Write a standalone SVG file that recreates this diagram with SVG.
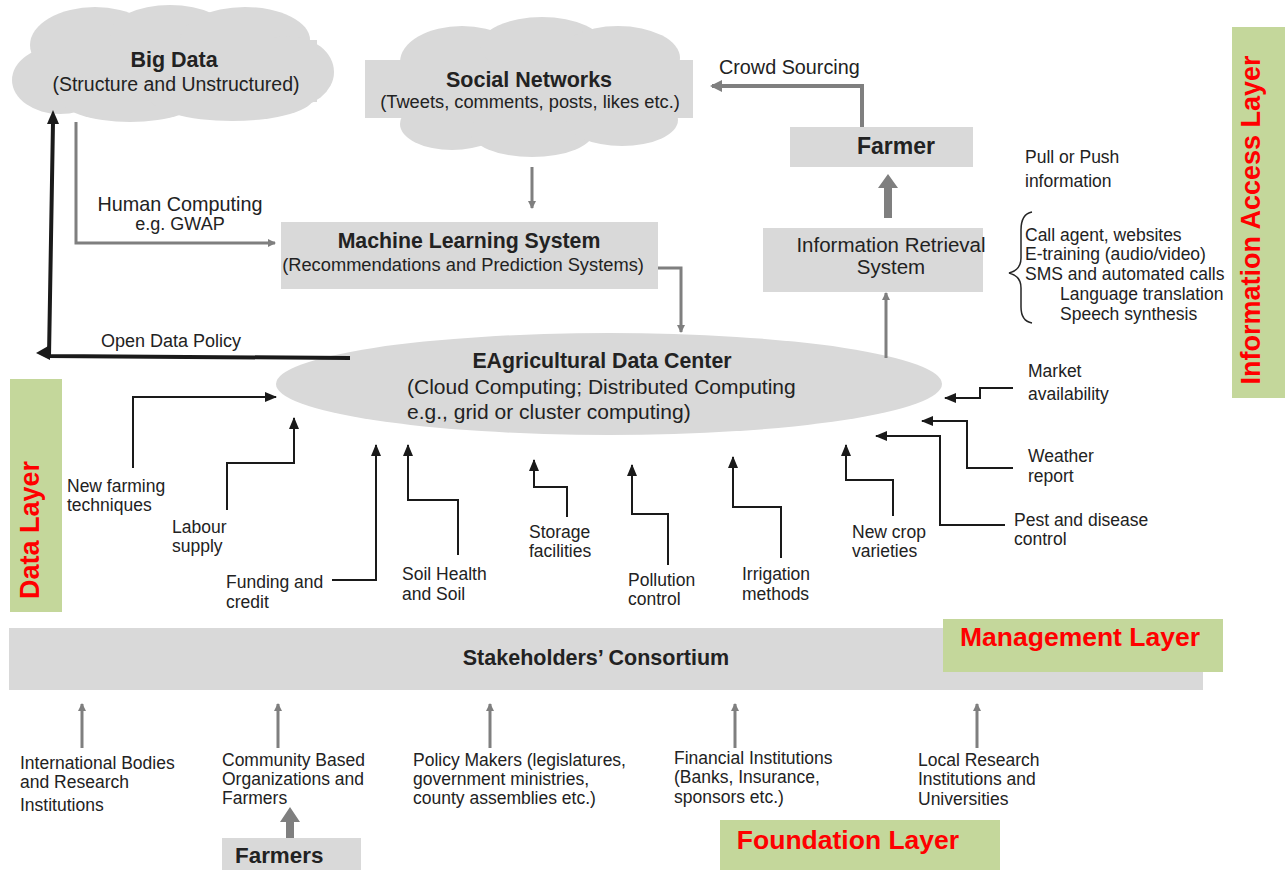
<svg xmlns="http://www.w3.org/2000/svg" width="1285" height="870" viewBox="0 0 1285 870">
<defs>
<style>
text{font-family:"Liberation Sans",Arial,sans-serif;fill:#222222}
.s{font-size:17.5px}
.b{font-weight:bold}
.c{text-anchor:middle}
.red{fill:#ff0000;font-weight:bold}
.box{fill:#d9d9d9}
.green{fill:#c4d79b}
.blk{fill:none;stroke:#1a1a1a;stroke-width:2}
.gry{fill:none;stroke:#7f7f7f;stroke-width:3}
</style>
<marker id="ab" markerUnits="userSpaceOnUse" markerWidth="12" markerHeight="10" refX="11" refY="5" orient="auto">
<path d="M0,0 L12,5 L0,10 Z" fill="#1a1a1a"/>
</marker>
<marker id="ag" markerUnits="userSpaceOnUse" markerWidth="8" markerHeight="8" refX="7" refY="4" orient="auto">
<path d="M0,0 L8,4 L0,8 Z" fill="#7f7f7f"/>
</marker>
<marker id="ag2" markerUnits="userSpaceOnUse" markerWidth="12" markerHeight="12" refX="10" refY="6" orient="auto">
<path d="M0,0 L12,6 L0,12 Z" fill="#7f7f7f"/>
</marker>
</defs>
<rect width="1285" height="870" fill="#ffffff"/>

<g id="bigdata">
<g class="box">
<ellipse cx="95" cy="45" rx="65" ry="38"/>
<ellipse cx="170" cy="34" rx="60" ry="29"/>
<ellipse cx="245" cy="40" rx="65" ry="33"/>
<ellipse cx="288" cy="72" rx="46" ry="36"/>
<ellipse cx="60" cy="80" rx="48" ry="34"/>
<ellipse cx="130" cy="96" rx="72" ry="26"/>
<ellipse cx="232" cy="97" rx="82" ry="24"/>
<rect x="40" y="40" width="277" height="62"/>
</g>
<text class="b c" x="174" y="67" font-size="21.5">Big Data</text>
<text class="c" x="176" y="91" font-size="19.5">(Structure and Unstructured)</text>
</g>

<g id="social">
<g class="box">
<ellipse cx="462" cy="62" rx="62" ry="36"/>
<ellipse cx="542" cy="46" rx="62" ry="29"/>
<ellipse cx="618" cy="58" rx="62" ry="32"/>
<ellipse cx="452" cy="124" rx="52" ry="26"/>
<ellipse cx="532" cy="131" rx="62" ry="26"/>
<ellipse cx="622" cy="120" rx="56" ry="26"/>
<rect x="365" y="60" width="328" height="58"/>
</g>
<text class="b c" x="529" y="87" font-size="21.5">Social Networks</text>
<text class="c" x="530" y="108" font-size="18.3">(Tweets, comments, posts, likes etc.)</text>
</g>

<g id="farmer">
<rect class="box" x="790" y="127" width="183" height="40"/>
<text class="b c" x="896" y="154" font-size="23">Farmer</text>
</g>

<g id="irs">
<rect class="box" x="763" y="228" width="220" height="64"/>
<text class="c" x="891" y="252" font-size="20.5">Information Retrieval</text>
<text class="c" x="891" y="274" font-size="20.5">System</text>
</g>

<g id="mls">
<rect class="box" x="281" y="222" width="377" height="67"/>
<text class="b c" x="469" y="248" font-size="21.3">Machine Learning System</text>
<text class="c" x="463" y="271" font-size="18.3">(Recommendations and Prediction Systems)</text>
</g>

<g id="datacenter">
<ellipse class="box" cx="609" cy="384" rx="333" ry="51"/>
<text class="b c" x="602" y="368" font-size="21.3">EAgricultural Data Center</text>
<text x="407" y="394" font-size="21">(Cloud Computing; Distributed Computing</text>
<text x="407" y="419" font-size="21">e.g., grid or cluster computing)</text>
</g>

<g id="consortium">
<rect class="box" x="9" y="628" width="1194" height="62"/>
<text class="b c" x="596" y="665" font-size="21.5">Stakeholders’ Consortium</text>
</g>

<g id="farmers">
<rect class="box" x="222" y="838" width="139" height="32"/>
<text class="b" x="235" y="863" font-size="22.4">Farmers</text>
</g>

<g id="layer-info">
<rect class="green" x="1232" y="27" width="53" height="371"/>
<text class="red c" x="1260" y="220" font-size="27" transform="rotate(-90 1260 220)">Information  Access Layer</text>
</g>
<g id="layer-data">
<rect class="green" x="10" y="379" width="52" height="233"/>
<text class="red c" x="39" y="530" font-size="27" transform="rotate(-90 39 530)">Data Layer</text>
</g>
<g id="layer-management">
<rect class="green" x="943" y="619" width="280" height="53"/>
<text class="red c" x="1080" y="646" font-size="26.5">Management  Layer</text>
</g>
<g id="layer-foundation">
<rect class="green" x="720" y="820" width="280" height="50"/>
<text class="red c" x="848" y="849" font-size="26.5">Foundation  Layer</text>
</g>

<g id="labels">
<text x="719" y="74" font-size="19.8">Crowd Sourcing</text>
<text class="s" x="1025" y="163">Pull or Push</text>
<text class="s" x="1025" y="187">information</text>
<text class="s" x="1025" y="241">Call agent, websites</text>
<text class="s" x="1025" y="260">E-training (audio/video)</text>
<text class="s" x="1025" y="280">SMS and automated calls</text>
<text class="s" x="1060" y="300">Language translation</text>
<text class="s" x="1060" y="320">Speech synthesis</text>
<text class="c" x="180" y="211" font-size="19.8">Human Computing</text>
<text class="c" x="180" y="230" font-size="18">e.g.  GWAP</text>
<text x="101" y="347" font-size="18">Open Data Policy</text>
<text class="s" x="67" y="492">New farming</text>
<text class="s" x="67" y="511">techniques</text>
<text class="s" x="172" y="533">Labour</text>
<text class="s" x="172" y="552">supply</text>
<text class="s" x="226" y="588">Funding and</text>
<text class="s" x="226" y="608">credit</text>
<text class="s" x="402" y="580">Soil Health</text>
<text class="s" x="402" y="600">and Soil</text>
<text class="s" x="529" y="538">Storage</text>
<text class="s" x="529" y="557">facilities</text>
<text class="s" x="628" y="586">Pollution</text>
<text class="s" x="628" y="605">control</text>
<text class="s" x="742" y="580">Irrigation</text>
<text class="s" x="742" y="600">methods</text>
<text class="s" x="852" y="538">New crop</text>
<text class="s" x="852" y="557">varieties</text>
<text class="s" x="1014" y="526">Pest and disease</text>
<text class="s" x="1014" y="545">control</text>
<text class="s" x="1028" y="462">Weather</text>
<text class="s" x="1028" y="482">report</text>
<text class="s" x="1028" y="377">Market</text>
<text class="s" x="1028" y="400">availability</text>
<text class="s" x="20" y="769">International Bodies</text>
<text class="s" x="20" y="788">and Research</text>
<text class="s" x="20" y="811">Institutions</text>
<text class="s" x="222" y="766">Community Based</text>
<text class="s" x="222" y="785">Organizations and</text>
<text class="s" x="222" y="804">Farmers</text>
<text class="s" x="413" y="766">Policy Makers (legislatures,</text>
<text class="s" x="413" y="785">government ministries,</text>
<text class="s" x="413" y="804">county assemblies etc.)</text>
<text class="s" x="674" y="764">Financial Institutions</text>
<text class="s" x="674" y="783">(Banks, Insurance,</text>
<text class="s" x="674" y="803">sponsors etc.)</text>
<text class="s" x="918" y="766">Local Research</text>
<text class="s" x="918" y="785">Institutions and</text>
<text class="s" x="918" y="805">Universities</text>
</g>

<g id="connectors">
<path class="gry" d="M532,167 L532,208" marker-end="url(#ag)"/>
<path class="gry" d="M76,122 L76,243 L275,243" marker-end="url(#ag)"/>
<path class="gry" d="M658,268 L681,268 L681,332" marker-end="url(#ag)"/>
<path class="gry" d="M886,358 L886,293" marker-end="url(#ag)"/>
<path fill="none" stroke="#7f7f7f" stroke-width="4" d="M862,127 L862,86 L712,86" marker-end="url(#ag2)"/>
<path fill="#7f7f7f" d="M884,218 L884,188 L878,188 L888,174 L898,188 L892,188 L892,218 Z"/>
<path fill="none" stroke="#1a1a1a" stroke-width="4" d="M350,358 L49,356 L53,122"/>
<path fill="#1a1a1a" d="M53,110 L59,124 L47,124 Z"/>
<path fill="#1a1a1a" d="M36,353 L50,345 L50,360 Z"/>
<path class="blk" d="M133,468 L133,397 L276,397" marker-end="url(#ab)"/>
<path class="blk" d="M227,510 L227,463 L294,463 L294,418" marker-end="url(#ab)"/>
<path class="blk" d="M332,580 L376,580 L376,445" marker-end="url(#ab)"/>
<path class="blk" d="M458,555 L458,500 L408,500 L408,445" marker-end="url(#ab)"/>
<path class="blk" d="M567,517 L567,487 L534,487 L534,460" marker-end="url(#ab)"/>
<path class="blk" d="M668,565 L668,514 L632,514 L632,465" marker-end="url(#ab)"/>
<path class="blk" d="M781,558 L781,507 L733,507 L733,457" marker-end="url(#ab)"/>
<path class="blk" d="M893,516 L893,480 L846,480 L846,445" marker-end="url(#ab)"/>
<path class="blk" d="M1005,525 L940,525 L940,436 L876,436" marker-end="url(#ab)"/>
<path class="blk" d="M1013,468 L967,468 L967,421 L922,421" marker-end="url(#ab)"/>
<path class="blk" d="M1013,388 L980,388 L980,398 L945,398" marker-end="url(#ab)"/>
<path class="gry" d="M82,748 L82,704" marker-end="url(#ag)"/>
<path class="gry" d="M278,748 L278,704" marker-end="url(#ag)"/>
<path class="gry" d="M490,748 L490,704" marker-end="url(#ag)"/>
<path class="gry" d="M735,748 L735,704" marker-end="url(#ag)"/>
<path class="gry" d="M977,748 L977,704" marker-end="url(#ag)"/>
<path fill="#7f7f7f" d="M286,838 L286,822 L280,822 L290,807 L300,822 L294,822 L294,838 Z"/>
<path fill="none" stroke="#262626" stroke-width="1.5" d="M1032,212 Q1021,214 1021,230 L1021,258 Q1021,270 1009,273 Q1021,276 1021,288 L1021,307 Q1021,321 1032,323"/>
</g>
</svg>
